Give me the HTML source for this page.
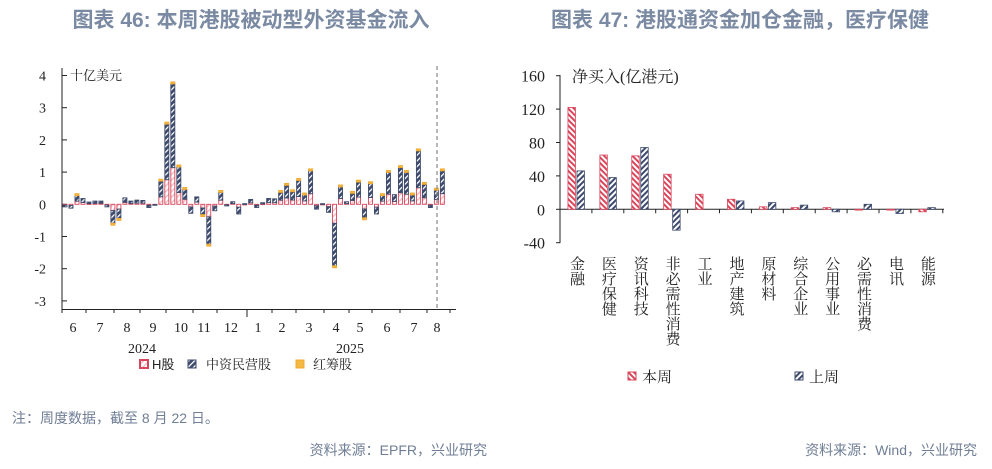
<!DOCTYPE html>
<html><head><meta charset="utf-8"><style>
body{margin:0;background:#fff;width:992px;height:464px;overflow:hidden;font-family:"Liberation Sans","Noto Sans CJK SC",sans-serif}
</style></head><body>
<svg id="s" width="992" height="464" xmlns="http://www.w3.org/2000/svg">
<defs>
<pattern id="pm" width="4" height="4" patternUnits="userSpaceOnUse" patternTransform="rotate(45)"><rect width="4" height="4" fill="#3d4a6b"/><rect width="1.3" height="4" fill="#fff"/></pattern>
<pattern id="ph" width="4" height="4" patternUnits="userSpaceOnUse" patternTransform="rotate(45)"><rect width="4" height="4" fill="#fff"/><rect width="1.3" height="4" fill="#f2b8c0"/></pattern>
<pattern id="pr" width="4" height="4" patternUnits="userSpaceOnUse" patternTransform="rotate(-45)"><rect width="4" height="4" fill="#fff"/><rect width="2" height="4" fill="#d9455a"/></pattern>
<pattern id="pb" width="4" height="4" patternUnits="userSpaceOnUse" patternTransform="rotate(45)"><rect width="4" height="4" fill="#fff"/><rect width="2" height="4" fill="#3d4a6b"/></pattern>
</defs>
<g font-family="'Liberation Sans','Noto Sans CJK SC',sans-serif" font-weight="bold" font-size="21" fill="#7b8aa3">
<text x="251" y="27" text-anchor="middle">图表 46: 本周港股被动型外资基金流入</text>
<text x="740" y="27" text-anchor="middle">图表 47: 港股通资金加仓金融，医疗保健</text>
</g>
<g font-family="'Liberation Sans','Noto Sans CJK SC',sans-serif" font-size="14" fill="#6f7e96">
<text x="12" y="423">注：周度数据，截至 8 月 22 日。</text>
<text x="487" y="455" text-anchor="end">资料来源：EPFR，兴业研究</text>
<text x="977" y="455" text-anchor="end">资料来源：Wind，兴业研究</text>
</g>
<g id="L"></g><g id="R"></g>
</svg>
<script>
const NS="http://www.w3.org/2000/svg";
function el(p,t,a,txt){const e=document.createElementNS(NS,t);for(const k in a)e.setAttribute(k,a[k]);if(txt!==undefined)e.textContent=txt;p.appendChild(e);return e;}
const L=document.getElementById('L'),R=document.getElementById('R');
const serif="'Liberation Serif','Noto Serif CJK SC',serif";
const z=204.3,u=32.2;
el(L,'line',{x1:62,y1:68,x2:62,y2:310,stroke:'#222','stroke-width':1});
el(L,'line',{x1:62,y1:309.5,x2:456,y2:309.5,stroke:'#222','stroke-width':1});
for(let v=-3;v<=4;v++){const y=z-v*u;el(L,'line',{x1:62,y1:y,x2:67,y2:y,stroke:'#222'});el(L,'text',{x:46,y:y+5,'text-anchor':'end','font-family':serif,'font-size':14,fill:'#222'},String(v));}
el(L,'text',{x:70,y:80,'font-family':serif,'font-size':13,fill:'#222'},'十亿美元');
const tot=[-0.08,-0.12,0.33,0.18,0.07,0.1,0.1,-0.08,-0.65,-0.5,0.2,0.1,0.13,0.12,-0.1,-0.02,0.78,2.55,3.8,1.22,0.52,-0.28,0.23,-0.38,-1.3,-0.2,0.43,-0.05,0.08,-0.3,0.02,0.15,-0.1,0.05,0.18,0.17,0.43,0.65,0.45,0.8,0.35,1.1,-0.15,0.02,-0.25,-1.97,0.6,0.08,0.4,0.75,-0.48,0.7,-0.3,0.33,1.05,0.3,1.2,1.05,0.35,1.72,0.68,-0.1,0.5,1.1];
tot.forEach((t,i)=>{const cx=65+i*5.99;const h=t*0.3,rc=Math.abs(t)>0.3?Math.sign(t)*0.06:0,m=t-h-rc;
 let b=0;[[h,'url(#ph)','#d9455a'],[m,'url(#pm)','#3d4a6b'],[rc,'#f4b942','#f0a830']].forEach(([v,f,s])=>{if(!v)return;const y1=z-b*u,y2=z-(b+v)*u;el(L,'rect',{x:cx-2,y:Math.min(y1,y2),width:4,height:Math.max(Math.abs(y1-y2),0.8),fill:f,stroke:s,'stroke-width':0.9});b+=v;});});
el(L,'line',{x1:437,y1:66,x2:437,y2:309,stroke:'#888','stroke-width':1.2,'stroke-dasharray':'4,3'});
const mx=[73,100,127,153,181,204,231,258,282,309,336,360,387,414,437],ml=['6','7','8','9','10','11','12','1','2','3','4','5','6','7','8'];
mx.forEach((x,i)=>el(L,'text',{x:x,y:332,'text-anchor':'middle','font-family':serif,'font-size':14,fill:'#222'},ml[i]));
[62,86,114,140,166,193,217,247,272,296,324,349,372,400,427,450].forEach(x=>el(L,'line',{x1:x,y1:309,x2:x,y2:313,stroke:'#222'}));
el(L,'line',{x1:247,y1:309,x2:247,y2:317,stroke:'#222'});
el(L,'text',{x:142,y:353,'text-anchor':'middle','font-family':serif,'font-size':14,fill:'#222'},'2024');
el(L,'text',{x:350,y:353,'text-anchor':'middle','font-family':serif,'font-size':14,fill:'#222'},'2025');
el(L,'rect',{x:140,y:360,width:8,height:8,fill:'url(#ph)',stroke:'#d9455a','stroke-width':2});
el(L,'text',{x:152,y:369,'font-size':13,fill:'#222'},'H股');
el(L,'rect',{x:188,y:360,width:8,height:8,fill:'url(#pm)',stroke:'#3d4a6b','stroke-width':1});
el(L,'text',{x:206,y:369,'font-family':serif,'font-size':13,fill:'#222'},'中资民营股');
el(L,'rect',{x:296,y:360,width:8,height:8,fill:'#f4b942',stroke:'#f0a830'});
el(L,'text',{x:313,y:369,'font-family':serif,'font-size':13,fill:'#222'},'红筹股');
const z2=209.3,k=33.4/40;
el(R,'line',{x1:560,y1:75,x2:560,y2:243,stroke:'#222'});
el(R,'line',{x1:560,y1:z2,x2:944,y2:z2,stroke:'#222'});
for(let v=-40;v<=160;v+=40){const y=z2-v*k;el(R,'line',{x1:556,y1:y,x2:560,y2:y,stroke:'#222'});el(R,'text',{x:545,y:y+6,'text-anchor':'end','font-family':serif,'font-size':16,fill:'#222'},String(v));}
el(R,'text',{x:572,y:82,'font-family':serif,'font-size':16,fill:'#222'},'净买入(亿港元)');
const a=[122,65,64,42,18,12,3,2,2,-1,-1,-3],b=[46,38,74,-25,0,10,8,5,-3,6,-5,2];
const cats=['金融','医疗保健','资讯科技','非必需性消费','工业','地产建筑','原材料','综合企业','公用事业','必需性消费','电讯','能源'];
const w=31.9;
for(let i=0;i<12;i++){const x0=560+i*w,c=x0+w/2;
 el(R,'line',{x1:x0+w,y1:z2,x2:x0+w,y2:z2+4,stroke:'#222'});
 [[a[i],c-8,'url(#pr)','#d9455a'],[b[i],c+1,'url(#pb)','#3d4a6b']].forEach(([v,x,f,s])=>{if(!v)return;const y=z2-v*k;el(R,'rect',{x:x,y:Math.min(y,z2),width:7.5,height:Math.abs(v*k),fill:f,stroke:s,'stroke-width':0.8});});
 el(R,'text',{x:c,y:256,'font-family':serif,'font-size':15,fill:'#222','writing-mode':'tb','glyph-orientation-vertical':0,'letter-spacing':0},cats[i]);
}
el(R,'rect',{x:628,y:372,width:8,height:8,fill:'url(#pr)',stroke:'#d9455a'});
el(R,'text',{x:642,y:382,'font-family':serif,'font-size':15,fill:'#222'},'本周');
el(R,'rect',{x:795,y:372,width:8,height:8,fill:'url(#pb)',stroke:'#3d4a6b'});
el(R,'text',{x:809,y:382,'font-family':serif,'font-size':15,fill:'#222'},'上周');
</script>
</body></html>
